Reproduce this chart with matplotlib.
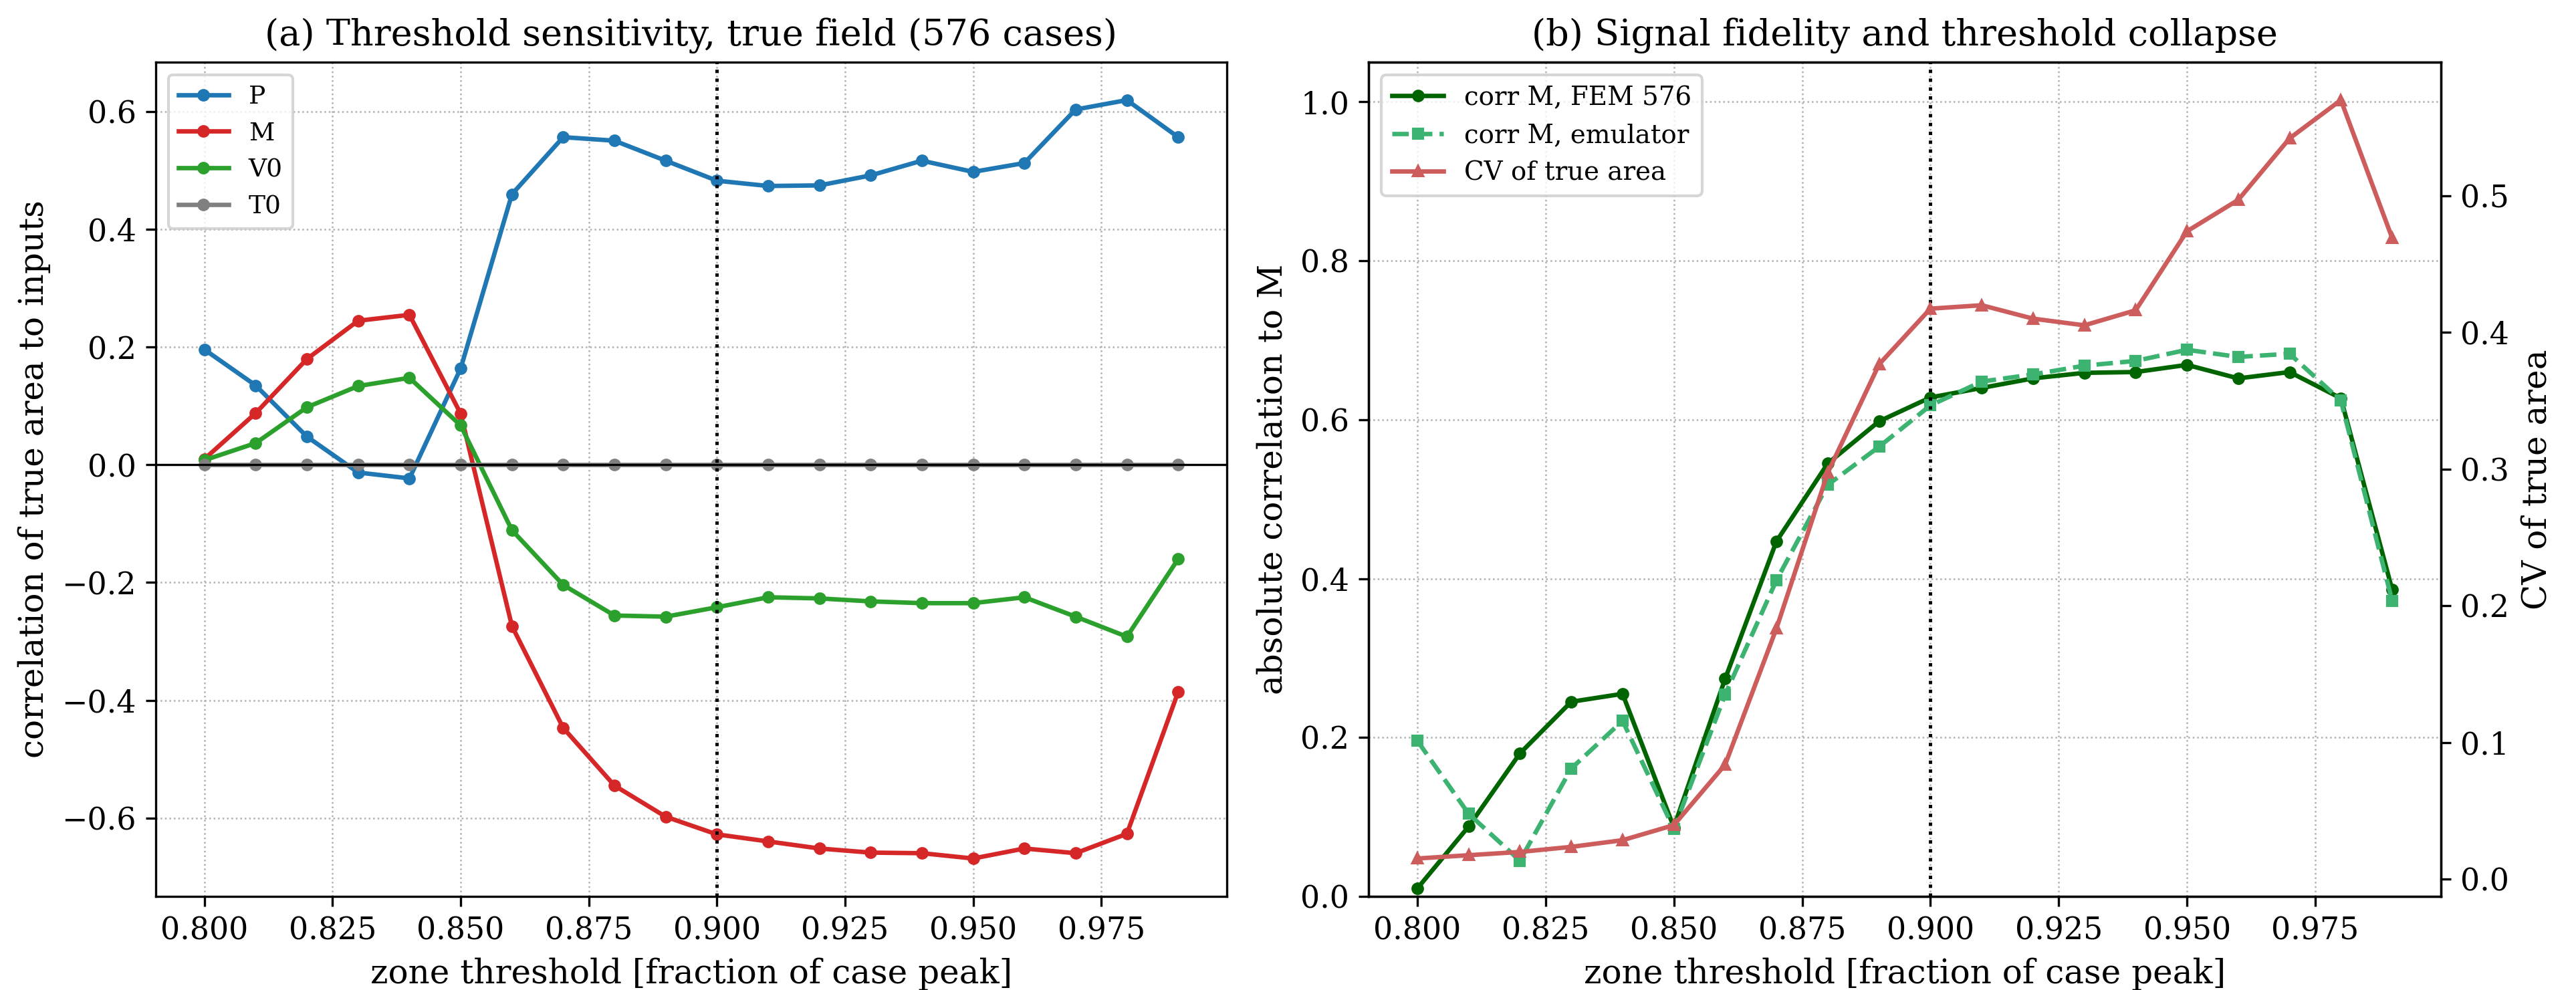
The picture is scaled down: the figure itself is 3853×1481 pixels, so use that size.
import matplotlib
matplotlib.use("Agg")
import matplotlib.pyplot as plt
import numpy as np

thresholds = [0.80, 0.81, 0.82, 0.83, 0.84, 0.85, 0.86, 0.87, 0.88, 0.89,
              0.90, 0.91, 0.92, 0.93, 0.94, 0.95, 0.96, 0.97, 0.98, 0.99]

corr_P = [0.196, 0.135, 0.048, -0.013, -0.023, 0.164, 0.460, 0.557, 0.551, 0.517,
          0.483, 0.474, 0.475, 0.492, 0.517, 0.498, 0.513, 0.604, 0.620, 0.557]
corr_M = [0.010, 0.088, 0.180, 0.245, 0.255, 0.087, -0.274, -0.447, -0.545, -0.598,
          -0.628, -0.640, -0.652, -0.659, -0.660, -0.669, -0.652, -0.660, -0.627, -0.386]
corr_V0 = [0.008, 0.037, 0.098, 0.134, 0.148, 0.067, -0.111, -0.204, -0.256, -0.258,
           -0.242, -0.225, -0.227, -0.232, -0.235, -0.235, -0.225, -0.258, -0.292, -0.160]
corr_T0 = [0.0] * 20

corr_M_emulator = [0.196, 0.104, 0.045, 0.161, 0.221, 0.085, 0.254, 0.398, 0.518, 0.566,
                   0.618, 0.648, 0.657, 0.668, 0.674, 0.688, 0.679, 0.683, 0.624, 0.372]
cv_true_area = [0.0151, 0.0175, 0.0199, 0.0236, 0.0285, 0.0395, 0.0838, 0.1835, 0.2974, 0.3767,
                0.4174, 0.4199, 0.4101, 0.4052, 0.4162, 0.474, 0.497, 0.542, 0.570, 0.469]

chosen_threshold = 0.90

plt.rcParams['font.family'] = ['DejaVu Serif']
plt.rcParams['font.size'] = 11

fig = plt.figure(figsize=(3853 / 300, 1481 / 300), dpi=300)
ax1 = fig.add_axes([233 / 3853, 140 / 1481, 1602 / 3853, 1248 / 1481])
ax2 = fig.add_axes([2047 / 3853, 140 / 1481, 1604 / 3853, 1248 / 1481])

x = np.array(thresholds)
lw = 1.6
ms = 3.5
ax1.plot(x, corr_P, '-o', color='#1f77b4', lw=lw, ms=ms, label='P')
ax1.plot(x, corr_M, '-o', color='#d62728', lw=lw, ms=ms, label='M')
ax1.plot(x, corr_V0, '-o', color='#2ca02c', lw=lw, ms=ms, label='V0')
ax1.plot(x, corr_T0, '-o', color='gray', lw=lw, ms=ms, label='T0')
ax1.axhline(0, color='black', lw=0.8)
ax1.axvline(chosen_threshold, color='black', ls=':', lw=1.2)
ax1.grid(True, ls=':', lw=0.6, color='#b0b0b0')
ax1.set_xlabel('zone threshold [fraction of case peak]', fontsize=12)
ax1.set_ylabel('correlation of true area to inputs', fontsize=12)
ax1.set_title('(a) Threshold sensitivity, true field (576 cases)', fontsize=13)
ax1.legend(loc='upper left', fontsize=9)

ax2.plot(x, np.abs(corr_M), '-o', color='darkgreen', lw=lw, ms=ms, label='corr M, FEM 576')
ax2.plot(x, corr_M_emulator, '--s', color='mediumseagreen', lw=lw, ms=ms, label='corr M, emulator')
ax2.axvline(chosen_threshold, color='black', ls=':', lw=1.2)
ax2.set_ylim(0, 1.05)
ax2.grid(True, ls=':', lw=0.6, color='#b0b0b0')
ax2.set_xlabel('zone threshold [fraction of case peak]', fontsize=12)
ax2.set_ylabel('absolute correlation to M', fontsize=12)
ax2.set_title('(b) Signal fidelity and threshold collapse', fontsize=13)

ax3 = ax2.twinx()
ax3.plot(x, cv_true_area, '-^', color='indianred', lw=lw, ms=ms, label='CV of true area')
ax3.set_ylabel('CV of true area', fontsize=12)

h1, l1 = ax2.get_legend_handles_labels()
h2, l2 = ax3.get_legend_handles_labels()
ax2.legend(h1 + h2, l1 + l2, loc='upper left', fontsize=9.3)

fig.savefig('out.png', dpi=300)
